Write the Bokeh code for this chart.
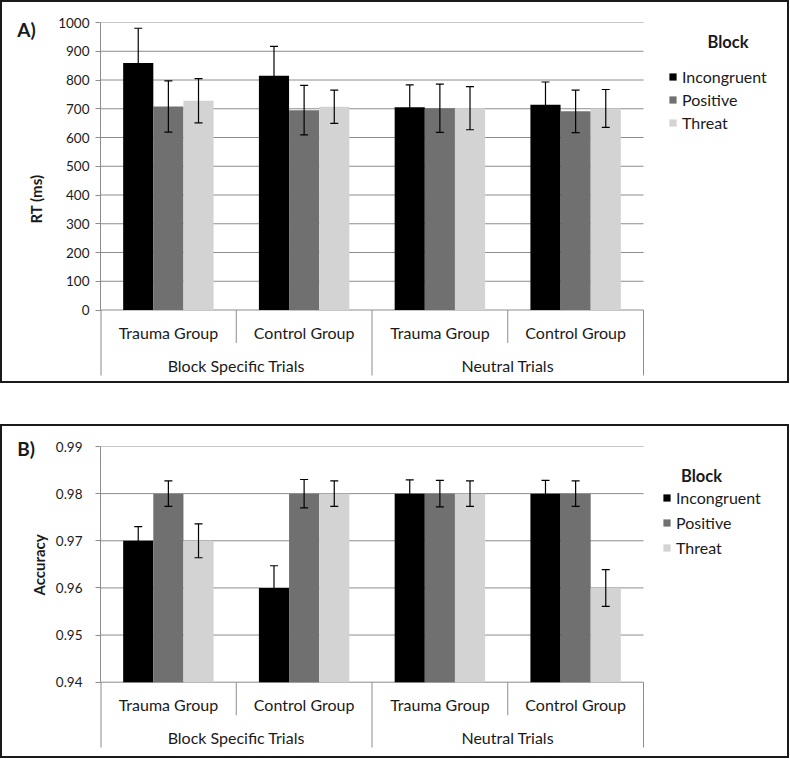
import numpy as np
from bokeh.plotting import figure
from bokeh.models import (Range1d, FixedTicker, Legend, LegendItem, Label, Title,
                          ColumnDataSource, Whisker, TeeHead, Spacer)
from bokeh.layouts import column
from bokeh.embed import file_html
from bokeh.resources import INLINE
from bokeh.core.properties import value

# ---------------- data ----------------
trials = ["Block Specific Trials", "Neutral Trials"]
groups = ["Trauma Group", "Control Group", "Trauma Group", "Control Group"]
blocks = ["Incongruent", "Positive", "Threat"]
legend_title = "Block"
block_colors = ["#000000", "#707070", "#d3d3d3"]

# Panel A: reaction time (ms); order: BST-Trauma, BST-Control, NT-Trauma, NT-Control
rt_incongruent = [859, 815, 705, 714]
rt_positive = [708, 695, 702, 691]
rt_threat = [728, 707, 702, 701]
rt_err_incongruent = [121, 102, 78, 79]
rt_err_positive = [89, 86, 84, 74]
rt_err_threat = [77, 58, 75, 66]
rt_ticks = [0, 100, 200, 300, 400, 500, 600, 700, 800, 900, 1000]
rt_tick_labels = ["0", "100", "200", "300", "400", "500", "600", "700", "800", "900", "1000"]

# Panel B: accuracy
acc_incongruent = [0.970, 0.960, 0.980, 0.980]
acc_positive = [0.980, 0.980, 0.980, 0.980]
acc_threat = [0.970, 0.980, 0.980, 0.960]
acc_err_incongruent = [0.0030, 0.0047, 0.0029, 0.0028]
acc_err_positive = [0.0027, 0.0030, 0.0028, 0.0027]
acc_err_threat = [0.0036, 0.0027, 0.0027, 0.0039]
acc_ticks = [0.94, 0.95, 0.96, 0.97, 0.98, 0.99]
acc_tick_labels = ["0.94", "0.95", "0.96", "0.97", "0.98", "0.99"]

# ---------------- style ----------------
FONT = "Lato"
TEXT = "#1a1a1a"
GRID = "#8c8c8c"
ERR = "#000000"
BAR_W = 0.222
W = 789
N_CAT = 4


def make_panel(tag, ylabel, values, errors, ticks, tick_labels, g):
    ymin, ymax = ticks[0], ticks[-1]
    y_start = ymin - (ymax - ymin) * (g["bottom"] - g["zero"]) / (g["zero"] - g["top"])
    # the frame runs on to the right edge so that the legend sits inside it
    x_end = N_CAT * (W - g["left"]) / (g["right"] - g["left"])
    p = figure(width=W, height=g["height"], x_range=Range1d(0, x_end),
               y_range=Range1d(y_start, ymax), x_axis_type=None,
               output_backend="svg", toolbar_location=None,
               min_border_left=g["left"], min_border_right=0,
               min_border_top=g["top"], min_border_bottom=g["height"] - g["bottom"])
    p.styles = {"border": "2px solid #1a1a1a"}
    p.outline_line_color = None
    p.background_fill_color = "white"
    p.border_fill_color = "white"

    ticker = FixedTicker(ticks=ticks)
    ax = p.yaxis[0]
    ax.ticker = ticker
    ax.bounds = (ymin, ymax)
    ax.major_label_overrides = dict(zip(ticks, tick_labels))
    ax.axis_line_color = GRID
    ax.major_tick_line_color = GRID
    ax.major_tick_out = 5
    ax.major_tick_in = 0
    ax.minor_tick_line_color = None
    ax.major_label_standoff = g["tick_standoff"]
    ax.major_label_text_font = FONT
    ax.major_label_text_font_size = "13.5px"
    ax.major_label_text_color = TEXT
    if g["title_label"]:
        # y label drawn as a side title so it can be centred on the tick span
        p.add_layout(Title(text=ylabel, align="left", vertical_align="top",
                           offset=g["ylab_offset"], standoff=g["ylab_standoff"],
                           text_font=FONT, text_font_style="bold",
                           text_font_size="15px", text_color=TEXT), "left")
    else:
        ax.axis_label = ylabel
        ax.axis_label_text_font = FONT
        ax.axis_label_text_font_style = "bold"
        ax.axis_label_text_font_size = "15px"
        ax.axis_label_text_color = TEXT
        ax.axis_label_standoff = g["label_standoff"]
    p.ygrid.visible = False
    p.xgrid.visible = False

    # horizontal gridlines over the category area only
    p.segment(x0=[0] * len(ticks), x1=[N_CAT] * len(ticks), y0=ticks, y1=ticks,
              line_color=GRID, line_width=1)

    centers = np.arange(N_CAT) + 0.5
    renderers = []
    for k, (blk, col) in enumerate(zip(blocks, block_colors)):
        v = np.array(values[k], dtype=float)
        e = np.array(errors[k], dtype=float)
        src = ColumnDataSource(dict(x=centers + (k - 1) * BAR_W, top=v,
                                    upper=v + e, lower=v - e))
        r = p.vbar(x="x", top="top", bottom=ymin, width=BAR_W, source=src,
                   fill_color=col, line_color=None)
        renderers.append(r)
        p.add_layout(Whisker(source=src, base="x", upper="upper", lower="lower",
                             level="annotation", line_color=ERR, line_width=1.2,
                             upper_head=TeeHead(size=8, line_color=ERR, line_width=1.2),
                             lower_head=TeeHead(size=8, line_color=ERR, line_width=1.2)))

    # category separators (Excel style)
    inner = [1, 3]
    outer = [0, 2, 4]
    p.ray(x=inner, y=[ymin] * len(inner), length=g["sep1"], length_units="screen",
          angle=-np.pi / 2, line_color=GRID, line_width=1)
    p.ray(x=outer, y=[ymin] * len(outer), length=200, length_units="screen",
          angle=-np.pi / 2, line_color=GRID, line_width=[2, 1, 1])

    # category labels
    p.text(x=centers, y=[ymin] * N_CAT, text=groups, y_offset=g["row1"],
           text_font=value(FONT), text_font_size="16px", text_color=TEXT,
           text_align="center", text_baseline="middle")
    p.text(x=[1, 3], y=[ymin] * 2, text=trials, y_offset=g["row2"],
           text_font=value(FONT), text_font_size="16px", text_color=TEXT,
           text_align="center", text_baseline="middle")

    legend = Legend(items=[LegendItem(label=b, renderers=[r]) for b, r in zip(blocks, renderers)],
                    location=g["legend_loc"], orientation="vertical",
                    glyph_width=9, glyph_height=9, label_standoff=5,
                    label_height=g["label_h"], spacing=g["spacing"], padding=0, margin=0,
                    label_text_font=FONT, label_text_font_size="16px",
                    label_text_color=TEXT, background_fill_alpha=0,
                    border_line_color=None)
    p.add_layout(legend)
    p.add_layout(Label(x=N_CAT, y=ymax, x_offset=g["block_dx"], y_offset=g["block_dy"],
                       text=legend_title, text_font=FONT, text_font_style="bold",
                       text_font_size="16.5px", text_color=TEXT,
                       text_align="center", text_baseline="middle"))
    p.add_layout(Label(x=0, y=ymax, x_offset=g["tag_dx"], y_offset=g["tag_dy"],
                       text=tag, text_font=FONT, text_font_style="bold",
                       text_font_size="19px", text_color=TEXT,
                       text_align="center", text_baseline="middle"), "left")
    return p


pA = make_panel("A)", "RT (ms)",
                [rt_incongruent, rt_positive, rt_threat],
                [rt_err_incongruent, rt_err_positive, rt_err_threat],
                rt_ticks, rt_tick_labels,
                dict(height=383, left=98, right=641, top=20, zero=307.5, bottom=373,
                     sep1=33, row1=22, row2=55.5, tick_standoff=6, label_standoff=10,
                     title_label=False,
                     legend_loc=(568, 243), label_h=19, spacing=4,
                     block_dx=84.5, block_dy=-19, tag_dx=-74, tag_dy=-7.3))

pB = make_panel("B)", "Accuracy",
                [acc_incongruent, acc_positive, acc_threat],
                [acc_err_incongruent, acc_err_positive, acc_err_threat],
                acc_ticks, acc_tick_labels,
                dict(height=334, left=98, right=641, top=20, zero=255.7, bottom=321,
                     sep1=33, row1=22, row2=55.5, tick_standoff=13, label_standoff=7,
                     title_label=True, ylab_offset=152, ylab_standoff=6,
                     legend_loc=(562, 189.5), label_h=21, spacing=4,
                     block_dx=58, block_dy=-29, tag_dx=-74.5, tag_dy=-2))

layout = column(pA, Spacer(height=41), pB)
open("out.html", "w").write(file_html(layout, INLINE))
